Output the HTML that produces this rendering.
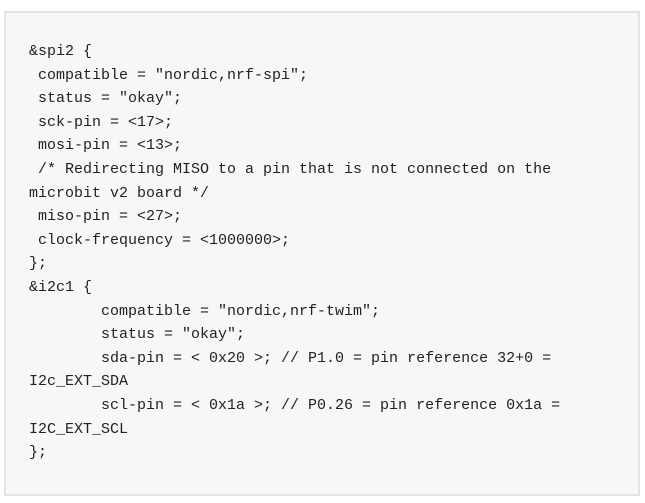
<!DOCTYPE html>
<html><head><style>
html,body{margin:0;padding:0;background:#fff;width:645px;height:503px;overflow:hidden}
.box{position:absolute;left:4px;top:11px;width:632px;height:481px;background:#f7f7f7;border:2px solid #e3e3e3}
pre{position:absolute;left:29px;top:40px;margin:0;font-family:"Liberation Mono",monospace;font-size:15px;line-height:23.6px;color:#222}
</style></head><body>
<div class="box"></div>
<pre>&amp;spi2 {
 compatible = "nordic,nrf-spi";
 status = "okay";
 sck-pin = &lt;17&gt;;
 mosi-pin = &lt;13&gt;;
 /* Redirecting MISO to a pin that is not connected on the
microbit v2 board */
 miso-pin = &lt;27&gt;;
 clock-frequency = &lt;1000000&gt;;
};
&amp;i2c1 {
        compatible = "nordic,nrf-twim";
        status = "okay";
        sda-pin = &lt; 0x20 &gt;; // P1.0 = pin reference 32+0 =
I2c_EXT_SDA
        scl-pin = &lt; 0x1a &gt;; // P0.26 = pin reference 0x1a =
I2C_EXT_SCL
};</pre>
</body></html>
